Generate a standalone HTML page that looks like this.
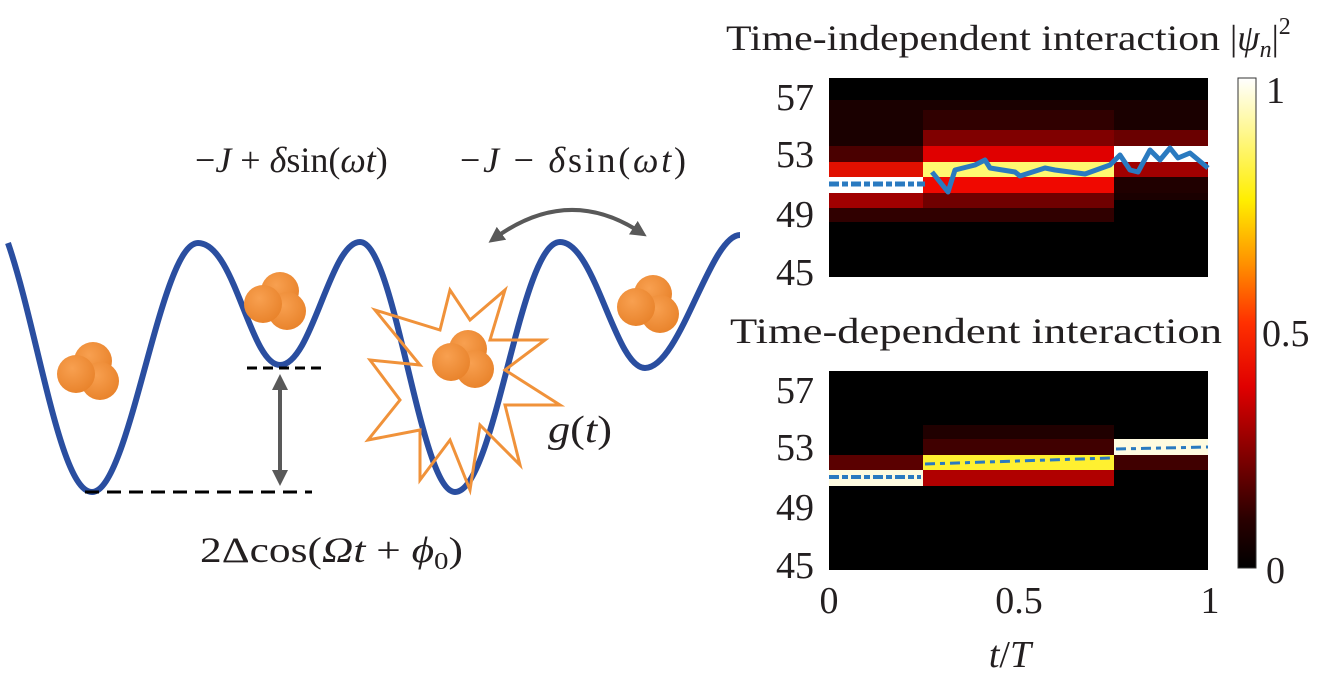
<!DOCTYPE html>
<html><head><meta charset="utf-8"><style>
html,body{margin:0;padding:0;background:#fff;}
svg text{font-family:"Liberation Serif",serif;fill:#231f20;}
</style></head><body>
<svg width="1318" height="680" viewBox="0 0 1318 680" xmlns="http://www.w3.org/2000/svg">
<defs>
<radialGradient id="ball" cx="0.4" cy="0.35" r="0.7">
<stop offset="0" stop-color="#f8a050"/><stop offset="1" stop-color="#e8822a"/>
</radialGradient>
<linearGradient id="hot" x1="0" y1="1" x2="0" y2="0">
<stop offset="0" stop-color="#000"/>
<stop offset="0.1" stop-color="#2a0000"/>
<stop offset="0.37" stop-color="#e00000"/>
<stop offset="0.5" stop-color="#ff3000"/>
<stop offset="0.62" stop-color="#ff9000"/>
<stop offset="0.75" stop-color="#ffee00"/>
<stop offset="1" stop-color="#ffffff"/>
</linearGradient>
<g id="cl">
<circle cx="8" cy="-11" r="19" fill="url(#ball)"/>
<circle cx="15" cy="9" r="19" fill="url(#ball)"/>
<circle cx="-9" cy="2" r="19" fill="url(#ball)"/>
</g>
<marker id="ah" viewBox="0 0 10 10" refX="5" refY="5" markerWidth="4" markerHeight="4" orient="auto-start-reverse"><path d="M0,0L10,5L0,10z" fill="#595959"/></marker>
</defs>

<path d="M8,243 C38,330 60,492 92,492 C130,492 160,243 198,243 C235,243 250,365 280,365 C312,365 330,242 360,242 C395,242 420,492 455,492 C495,492 520,242 560,242 C595,242 615,368 645,368 C680,368 710,235 740,235" fill="none" stroke="#2a4ea0" stroke-width="6"/>

<polygon points="505,290 490,340 545,340 505,370 560,405 505,405 520,465 480,425 470,490 450,440 420,480 420,430 368,440 400,400 370,360 420,365 375,310 440,330 450,290 470,320" fill="none" stroke="#f0923a" stroke-width="3"/>

<use href="#cl" x="85" y="372"/>
<use href="#cl" x="272" y="302"/>
<use href="#cl" x="460" y="360"/>
<use href="#cl" x="645" y="305"/>

<line x1="85" y1="492" x2="312" y2="492" stroke="#000" stroke-width="3" stroke-dasharray="14,8"/>
<line x1="247" y1="368" x2="322" y2="368" stroke="#000" stroke-width="3" stroke-dasharray="10,6"/>
<line x1="280" y1="382" x2="280" y2="478" stroke="#595959" stroke-width="4" marker-start="url(#ah)" marker-end="url(#ah)"/>
<path d="M495,238 Q568,185 640,232" fill="none" stroke="#595959" stroke-width="4" marker-start="url(#ah)" marker-end="url(#ah)"/>

<text x="195" y="172" font-size="36">−<tspan font-style="italic">J</tspan> + <tspan font-style="italic">δ</tspan>sin(<tspan font-style="italic">ωt</tspan>)</text>
<text x="460" y="172" font-size="36" textLength="226" lengthAdjust="spacing">−<tspan font-style="italic">J</tspan> − <tspan font-style="italic">δ</tspan>sin(<tspan font-style="italic">ωt</tspan>)</text>
<text x="548" y="442" font-size="38" textLength="64" lengthAdjust="spacingAndGlyphs"><tspan font-style="italic">g</tspan>(<tspan font-style="italic">t</tspan>)</text>
<text x="200" y="562" font-size="36" textLength="263" lengthAdjust="spacingAndGlyphs">2Δcos(<tspan font-style="italic">Ω</tspan><tspan font-style="italic">t</tspan> + <tspan font-style="italic">ϕ</tspan><tspan font-size="24" dy="7">0</tspan><tspan dy="-7">)</tspan></text>

<text x="726" y="50" font-size="36" textLength="494" lengthAdjust="spacingAndGlyphs">Time-independent interaction</text>
<text x="1230" y="50" font-size="36">|<tspan font-style="italic">ψ</tspan><tspan font-style="italic" font-size="24" dy="7">n</tspan><tspan dy="-7">|</tspan><tspan font-size="24" dy="-16">2</tspan></text>
<rect x="829" y="78" width="379" height="199" fill="#000"/>
<rect x="829" y="100" width="379" height="100" fill="#1a0000"/>
<rect x="923" y="110" width="191" height="100" fill="#300000"/>
<rect x="923" y="130" width="191" height="16" fill="#800000"/>
<rect x="829" y="146" width="94" height="16" fill="#4a0000"/>
<rect x="923" y="146" width="191" height="16" fill="#e00000"/>
<rect x="1114" y="130" width="94" height="16" fill="#6a0000"/>
<rect x="829" y="162" width="94" height="15" fill="#e01000"/>
<rect x="923" y="162" width="191" height="15" fill="#fff870"/>
<rect x="1114" y="162" width="94" height="15" fill="#a00000"/>
<rect x="829" y="177" width="94" height="16" fill="#fff"/>
<rect x="923" y="177" width="191" height="16" fill="#f00800"/>
<rect x="1114" y="177" width="94" height="16" fill="#200000"/>
<rect x="829" y="193" width="94" height="15" fill="#a00000"/>
<rect x="923" y="193" width="191" height="15" fill="#700000"/>
<rect x="829" y="208" width="94" height="14" fill="#300000"/>
<rect x="923" y="208" width="191" height="14" fill="#300000"/>
<rect x="1114" y="146" width="94" height="16" fill="#fff"/>
<line x1="829" y1="184" x2="925" y2="184" stroke="#2a7ac0" stroke-width="5" stroke-dasharray="10,3,6,3"/>
<polyline points="932,172 948,192 955,170 975,165 985,160 990,168 1015,172 1020,176 1045,168 1055,170 1085,174 1110,165 1120,155 1130,170 1138,172 1150,150 1160,160 1170,148 1178,158 1190,153 1208,168" fill="none" stroke="#2a7ac0" stroke-width="5" stroke-linejoin="round"/>
<g font-size="38" text-anchor="end">
<text x="814" y="110">57</text><text x="814" y="167">53</text><text x="814" y="227">49</text><text x="814" y="285">45</text>
</g>

<text x="730" y="343" font-size="36" textLength="492" lengthAdjust="spacingAndGlyphs">Time-dependent interaction</text>
<rect x="829" y="371" width="379" height="199" fill="#000"/>
<rect x="923" y="425" width="191" height="60" fill="#200000"/>
<rect x="829" y="455" width="94" height="15" fill="#5a0000"/>
<rect x="923" y="455" width="191" height="15" fill="#fff030"/>
<rect x="1114" y="455" width="94" height="15" fill="#400000"/>
<rect x="829" y="470" width="94" height="16" fill="#fffbe0"/>
<rect x="923" y="470" width="191" height="16" fill="#b00000"/>
<rect x="1114" y="439" width="94" height="16" fill="#fffbe0"/>
<rect x="923" y="439" width="191" height="16" fill="#400000"/>
<line x1="829" y1="477" x2="921" y2="477" stroke="#2a7ac0" stroke-width="4" stroke-dasharray="10,3,6,3"/>
<line x1="925" y1="464" x2="1110" y2="458" stroke="#2a7ac0" stroke-width="3" stroke-dasharray="10,5,5,5"/>
<line x1="1116" y1="449" x2="1208" y2="447" stroke="#2a7ac0" stroke-width="3" stroke-dasharray="10,5,5,5"/>
<g font-size="38" text-anchor="end">
<text x="814" y="403">57</text><text x="814" y="460">53</text><text x="814" y="520">49</text><text x="814" y="578">45</text>
</g>
<g font-size="38" text-anchor="middle">
<text x="829" y="613">0</text><text x="1019" y="613">0.5</text><text x="1210" y="613">1</text>
</g>
<text x="1010" y="667" font-size="38" text-anchor="middle"><tspan font-style="italic">t</tspan>/<tspan font-style="italic">T</tspan></text>

<rect x="1238" y="78" width="18" height="490" fill="url(#hot)" stroke="#333" stroke-width="1"/>
<g font-size="38">
<text x="1266" y="103">1</text><text x="1262" y="346">0.5</text><text x="1266" y="583">0</text>
</g>
</svg>
</body></html>
